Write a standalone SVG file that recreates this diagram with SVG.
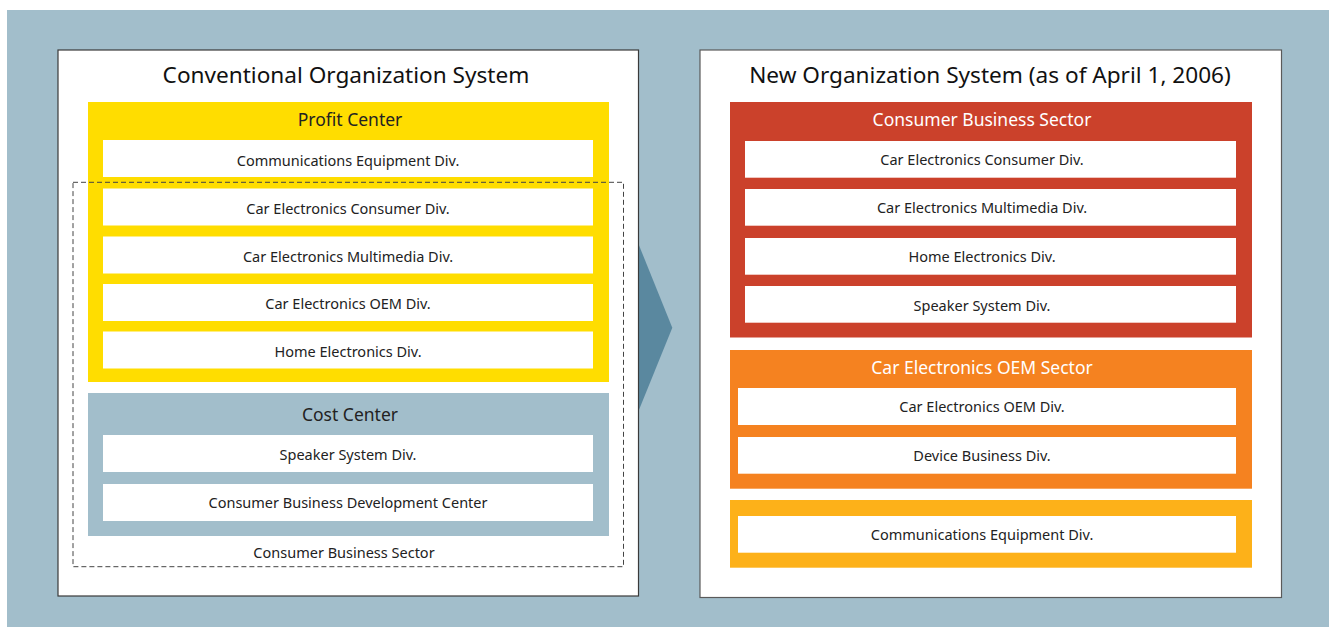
<svg xmlns="http://www.w3.org/2000/svg" width="1330" height="627" viewBox="0 0 1330 627">
<style>
.panel{fill:#ffffff;stroke:#3a3a3a;stroke-width:1.2}
.div{fill:#ffffff}
.t{font-family:"Noto Sans","Open Sans","Liberation Sans",sans-serif;text-anchor:middle}
.title{font-size:22.6px;fill:#111111}
.head{font-size:17.5px;fill:#222222}
.headw{font-size:17.5px;fill:#ffffff}
.lbl{font-size:14.5px;fill:#222222}
.yel{fill:#FFDD00}
.cost{fill:#A2BECB}
.red{fill:#CB412B}
.org{fill:#F58220}
.gold{fill:#FDB119}
.dash{fill:none;stroke:#444444;stroke-width:1;stroke-dasharray:5 3}
</style>
<rect x="7" y="10" width="1322" height="617" fill="#A2BECB"/>
<g id="connectors">
<polygon points="630,223 672.3,327.7 630,432" fill="#5A889F"/>
</g>
<g id="old-system">
<rect class="panel" x="58" y="50" width="580.5" height="546"/>
<text class="t title" x="346" y="83">Conventional Organization System</text>
</g>
<g id="profit-center">
<rect class="yel" x="88" y="102" width="521" height="280"/>
<text class="t head" x="350" y="126">Profit Center</text>
</g>
<g id="old-comm">
<rect class="div" x="103" y="140" width="490" height="37"/>
<text class="t lbl" x="348" y="166">Communications Equipment Div.</text>
</g>
<g id="old-cec">
<rect class="div" x="103" y="188.5" width="490" height="37"/>
<text class="t lbl" x="348" y="213.5">Car Electronics Consumer Div.</text>
</g>
<g id="old-cem">
<rect class="div" x="103" y="236.5" width="490" height="37"/>
<text class="t lbl" x="348" y="261.5">Car Electronics Multimedia Div.</text>
</g>
<g id="old-oem">
<rect class="div" x="103" y="284" width="490" height="37"/>
<text class="t lbl" x="348" y="309">Car Electronics OEM Div.</text>
</g>
<g id="old-home">
<rect class="div" x="103" y="331.5" width="490" height="37"/>
<text class="t lbl" x="348" y="356.5">Home Electronics Div.</text>
</g>
<g id="cost-center">
<rect class="cost" x="88" y="393" width="521" height="143"/>
<text class="t head" x="350" y="421">Cost Center</text>
</g>
<g id="old-speaker">
<rect class="div" x="103" y="435" width="490" height="37"/>
<text class="t lbl" x="348" y="459.5">Speaker System Div.</text>
</g>
<g id="old-cbdc">
<rect class="div" x="103" y="484" width="490" height="37"/>
<text class="t lbl" x="348" y="508">Consumer Business Development Center</text>
</g>
<g id="old-consumer-sector">
<rect class="dash" x="73" y="182.3" width="550.5" height="384.4"/>
<text class="t lbl" x="344" y="558">Consumer Business Sector</text>
</g>
<g id="new-system">
<rect class="panel" x="700" y="50" width="581.5" height="547.5" style="stroke:#5a5a5a"/>
<text class="t title" x="990" y="83">New Organization System (as of April 1, 2006)</text>
</g>
<g id="new-consumer-sector">
<rect class="red" x="730" y="102" width="522" height="235.5"/>
<text class="t headw" x="982" y="126">Consumer Business Sector</text>
</g>
<g id="new-cec">
<rect class="div" x="745" y="141" width="491" height="36.7"/>
<text class="t lbl" x="982" y="165">Car Electronics Consumer Div.</text>
</g>
<g id="new-cem">
<rect class="div" x="745" y="189" width="491" height="36.7"/>
<text class="t lbl" x="982" y="213">Car Electronics Multimedia Div.</text>
</g>
<g id="new-home">
<rect class="div" x="745" y="238" width="491" height="36.7"/>
<text class="t lbl" x="982" y="262">Home Electronics Div.</text>
</g>
<g id="new-speaker">
<rect class="div" x="745" y="286" width="491" height="36.7"/>
<text class="t lbl" x="982" y="310.5">Speaker System Div.</text>
</g>
<g id="new-oem-sector">
<rect class="org" x="730" y="350" width="522" height="138.7"/>
<text class="t headw" x="982" y="374">Car Electronics OEM Sector</text>
</g>
<g id="new-oem">
<rect class="div" x="738" y="388" width="498" height="37"/>
<text class="t lbl" x="982" y="412">Car Electronics OEM Div.</text>
</g>
<g id="new-device">
<rect class="div" x="738" y="437" width="498" height="36.7"/>
<text class="t lbl" x="982" y="461">Device Business Div.</text>
</g>
<g id="new-comm-group">
<rect class="gold" x="730" y="500" width="522" height="67.7"/>
</g>
<g id="new-comm">
<rect class="div" x="738" y="516" width="498" height="36.7"/>
<text class="t lbl" x="982" y="540">Communications Equipment Div.</text>
</g>
</svg>
